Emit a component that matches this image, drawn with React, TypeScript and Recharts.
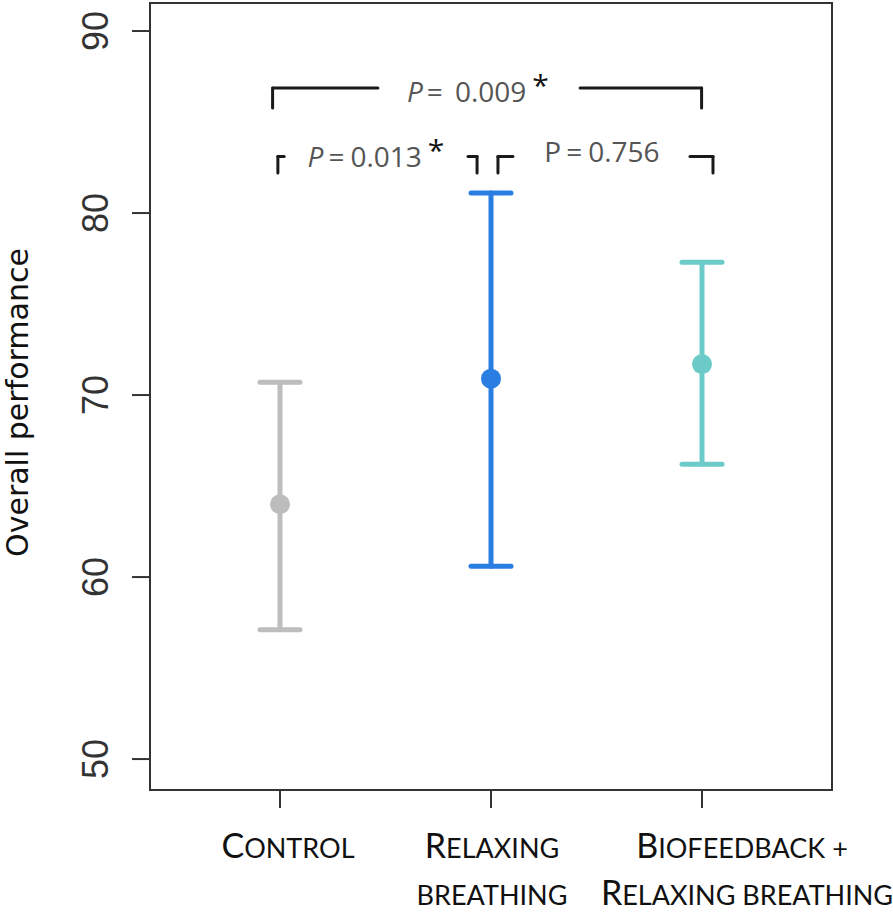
import React from "react";
import {
  ComposedChart,
  Scatter,
  ErrorBar,
  XAxis,
  YAxis,
  ReferenceArea,
  ReferenceLine,
  ReferenceDot,
} from "recharts";

// groups and their summary stats
const groups = ["Control", "Relaxing breathing", "Biofeedback + Relaxing breathing"];
const groupX = [1, 2, 3];
const means = [64.0, 70.9, 71.7];
const lowers = [57.1, 60.6, 66.2];
const uppers = [70.7, 81.1, 77.3];
const colors = ["#bdbdbd", "#2a7de1", "#6ccbc9"];

// x tick label lines (capital letters drawn large, the rest as small caps)
const labelLines = [["Control"], ["Relaxing", "breathing"], ["Biofeedback +", "Relaxing breathing"]];
const yTicks = [50, 60, 70, 80, 90];

const X_DOMAIN = [0.384, 3.616];
const Y_DOMAIN = [48.3, 91.54];

// significance brackets, in data units
const bracketTops = [86.87, 83.1, 83.1];
const bracketBottoms = [85.77, 82.2, 82.2];
const topBracket = { left: 0.965, right: 2.998, gapFrom: 1.464, gapTo: 2.422 };
const smallBrackets = [
  { x: 0.99, to: 1.02 },
  { x: 1.934, to: 1.891 },
  { x: 2.033, to: 2.104 },
  { x: 3.052, to: 2.943 },
];
const pLabels = [
  { x: 1.938, y: 86.1, italic: true, p: "0.009", star: true, size: 28, wide: true },
  { x: 1.455, y: 82.53, italic: true, p: "0.013", star: true, size: 28, wide: false },
  { x: 2.526, y: 82.8, italic: false, p: "0.756", star: false, size: 28, wide: false },
];

const labelShift = [8, 1, 40];

const SmallCaps = ({ text }: { text: string }) => {
  const runs: { s: string; big: boolean }[] = [];
  for (const ch of text) {
    const big = ch >= "A" && ch <= "Z";
    const last = runs[runs.length - 1];
    if (last && last.big === big) last.s += ch;
    else runs.push({ s: ch, big });
  }
  return (
    <>
      {runs.map((r, i) => (
        <tspan key={i} fontSize={r.big ? 34 : 27}>
          {r.s.toUpperCase()}
        </tspan>
      ))}
    </>
  );
};

const XTick = (props: any) => {
  const { x, y, payload } = props;
  const i = groupX.indexOf(payload.value);
  if (i < 0) return null;
  return (
    <g>
      {labelLines[i].map((line, k) => (
        <text
          key={k}
          x={x + labelShift[i] + (i === 2 && k === 1 ? 5 : 0)}
          y={y + 50 + k * 47}
          textAnchor="middle"
          fontFamily="Lato, 'Open Sans', sans-serif"
          fill="#111"
        >
          <SmallCaps text={line} />
        </text>
      ))}
    </g>
  );
};

const YTick = (props: any) => {
  const { x, y, payload } = props;
  const bx = x - 24;
  return (
    <text
      x={bx}
      y={y}
      transform={`rotate(-90, ${bx}, ${y})`}
      textAnchor="middle"
      fontSize={36}
      fontFamily="'Liberation Sans Narrow', 'Liberation Sans', Arial, sans-serif"
      fill="#333"
    >
      {payload.value}
    </text>
  );
};

const YLabel = (props: any) => {
  const vb = props.viewBox || { y: 3, height: 787 };
  const cy = vb.y + vb.height / 2 + 6;
  return (
    <text
      x={28}
      y={cy}
      transform={`rotate(-90, 28, ${cy})`}
      textAnchor="middle"
      fontSize={30}
      fontFamily="'DejaVu Sans', sans-serif"
      fill="#111"
    >
      Overall performance
    </text>
  );
};

const PText = (lbl: (typeof pLabels)[number]) => (props: any) => {
  const { cx, cy } = props;
  return (
    <text
      x={cx}
      y={cy}
      textAnchor="middle"
      fontSize={lbl.size}
      fontFamily="'Open Sans', sans-serif"
      fill="#555"
    >
      <tspan fontStyle={lbl.italic ? "italic" : "normal"}>P</tspan>
      <tspan dx={lbl.wide ? 4 : 5}>=</tspan>
      <tspan dx={lbl.wide ? 12 : 6}>{lbl.p}</tspan>
      {lbl.star && (
        <tspan dx={6} dy={-6} fill="#111" fontSize={lbl.size + 2}>
          *
        </tspan>
      )}
    </text>
  );
};

export default function App() {
  const seriesData = groups.map((g, i) => [
    { name: g, x: groupX[i], y: means[i], err: [means[i] - lowers[i], uppers[i] - means[i]] },
  ]);

  const seg = (x1: number, y1: number, x2: number, y2: number, key: string) => (
    <ReferenceLine
      key={key}
      segment={[
        { x: x1, y: y1 },
        { x: x2, y: y2 },
      ]}
      stroke="#1a1a1a"
      strokeWidth={3}
      strokeLinecap="round"
      ifOverflow="visible"
    />
  );

  return (
    <div style={{ position: "absolute", left: 0, top: 0, background: "#fff" }}>
      <ComposedChart
        width={893}
        height={912}
        margin={{ top: 3, right: 61, bottom: 0, left: 0 }}
      >
        <XAxis
          type="number"
          dataKey="x"
          domain={X_DOMAIN}
          ticks={groupX}
          allowDataOverflow
          axisLine={false}
          tickLine={{ stroke: "#333", strokeWidth: 2 }}
          tickSize={18}
          tickMargin={0}
          tick={<XTick />}
          height={122}
        />
        <YAxis
          type="number"
          domain={Y_DOMAIN}
          ticks={yTicks}
          allowDataOverflow
          axisLine={false}
          tickLine={{ stroke: "#333", strokeWidth: 2 }}
          tickSize={18}
          tickMargin={0}
          tick={<YTick />}
          width={150}
          label={<YLabel />}
        />
        <ReferenceArea
          x1={X_DOMAIN[0]}
          x2={X_DOMAIN[1]}
          y1={Y_DOMAIN[0]}
          y2={Y_DOMAIN[1]}
          fill="none"
          stroke="#333"
          strokeWidth={2}
          ifOverflow="visible"
        />
        {seg(topBracket.left, bracketBottoms[0], topBracket.left, bracketTops[0], "t1")}
        {seg(topBracket.left, bracketTops[0], topBracket.gapFrom, bracketTops[0], "t2")}
        {seg(topBracket.gapTo, bracketTops[0], topBracket.right, bracketTops[0], "t3")}
        {seg(topBracket.right, bracketTops[0], topBracket.right, bracketBottoms[0], "t4")}
        {smallBrackets.map((b, i) => (
          <React.Fragment key={`b${i}`}>
            {seg(b.x, bracketBottoms[1], b.x, bracketTops[1], `bv${i}`)}
            {seg(b.x, bracketTops[1], b.to, bracketTops[1], `bh${i}`)}
          </React.Fragment>
        ))}
        {pLabels.map((l, i) => (
          <ReferenceDot
            key={`p${i}`}
            x={l.x}
            y={l.y}
            r={0}
            ifOverflow="visible"
            shape={PText(l)}
          />
        ))}
        {seriesData.map((d, i) => (
          <Scatter
            key={groups[i]}
            data={d}
            dataKey="y"
            fill={colors[i]}
            isAnimationActive={false}
            shape={(p: any) => <circle cx={p.cx} cy={p.cy} r={10} fill={colors[i]} />}
          >
            <ErrorBar
              dataKey="err"
              direction="y"
              width={20}
              stroke={colors[i]}
              strokeWidth={5}
              strokeLinecap="round"
              isAnimationActive={false}
            />
          </Scatter>
        ))}
      </ComposedChart>
    </div>
  );
}
